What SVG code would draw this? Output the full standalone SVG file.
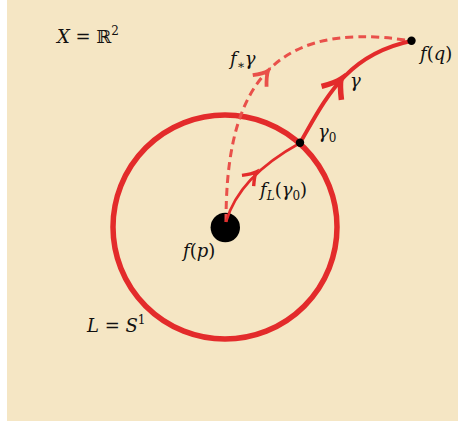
<svg xmlns="http://www.w3.org/2000/svg" width="458" height="421" viewBox="0 0 458 421">
<style>
text{font-family:"DejaVu Serif","Liberation Serif",serif;font-size:18px;fill:#111}
.it{font-style:italic}
.red{stroke:#e32b2b;fill:none}
.dash{stroke:#e9504a;fill:none;stroke-width:3;stroke-dasharray:8 5}
.barb{fill:none;stroke-linecap:butt;stroke-linejoin:miter}
</style>
<rect x="7" y="0" width="451" height="421" fill="#f5e6c4"/>
<g id="circle-L">
<circle cx="225" cy="227" r="112" class="red" stroke-width="5.5"/>
</g>
<g id="node-fp">
<circle cx="225.3" cy="227.5" r="14.7" fill="#000"/>
</g>
<g id="connectors">
<path id="fstar-gamma" class="dash" d="M226,222 C226,110 255,15 411,41"/>
<path id="fL-gamma0" class="red" stroke-width="2.6" d="M226,222 C235,190 260,165 300,143"/>
<path id="gamma" class="red" stroke-width="4" d="M300,143 C325,100 345,55 411,41"/>
<path class="barb" stroke="#e9504a" stroke-width="3.8" transform="translate(268,71) rotate(-50)" d="M-13,-9 Q-5,-2 0,0 Q-5,2 -13,9"/>
<path class="barb" stroke="#e32b2b" stroke-width="3.4" transform="translate(256,172) rotate(-47)" d="M-12,-8 Q-4,-1.5 0,0 Q-4,1.5 -12,8"/>
<path class="barb" stroke="#e32b2b" stroke-width="5.5" transform="translate(341,79) rotate(-56)" d="M-17,-12 Q-6,-2.5 0,0 Q-6,2.5 -17,12"/>
</g>
<g id="node-gamma0">
<circle cx="300" cy="142.7" r="4.2" fill="#000"/>
</g>
<g id="node-fq">
<circle cx="411.5" cy="40.7" r="4.2" fill="#000"/>
</g>
<g id="labels">
<text x="57" y="43"><tspan class="it">X</tspan> = ℝ<tspan font-size="12" dy="-8">2</tspan></text>
<text x="420" y="60"><tspan class="it">f</tspan>(<tspan class="it">q</tspan>)</text>
<text class="it" x="350" y="87">γ</text>
<text x="318" y="138"><tspan class="it">γ</tspan><tspan font-size="12" dy="4">0</tspan></text>
<text x="260" y="196"><tspan class="it">f</tspan><tspan class="it" font-size="12" dy="4">L</tspan><tspan dy="-4">(</tspan><tspan class="it">γ</tspan><tspan font-size="12" dy="4">0</tspan><tspan dy="-4">)</tspan></text>
<text x="230" y="65"><tspan class="it">f</tspan><tspan font-size="12" dy="4">∗</tspan><tspan class="it" dy="-4">γ</tspan></text>
<text x="183" y="257"><tspan class="it">f</tspan>(<tspan class="it">p</tspan>)</text>
<text x="87" y="332"><tspan class="it">L</tspan> = <tspan class="it">S</tspan><tspan font-size="12" dy="-8">1</tspan></text>
</g>
</svg>
